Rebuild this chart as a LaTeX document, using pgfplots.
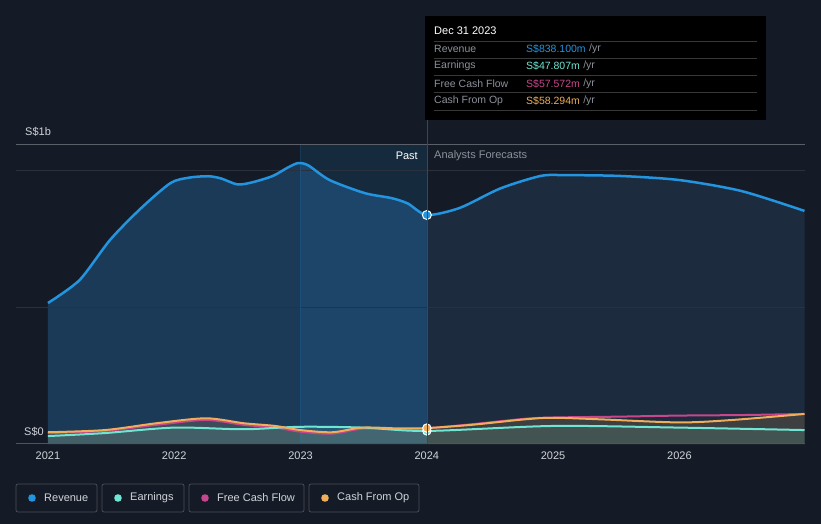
\documentclass[border=0pt]{standalone}
\usepackage{fontspec}
\setmainfont{Liberation Sans}
\usepackage{pgfplots}
\pgfplotsset{compat=1.18}

\definecolor{bg}{HTML}{151B26}
\definecolor{revc}{HTML}{2394DF}
\definecolor{earnc}{HTML}{6EE6D3}
\definecolor{fcfc}{HTML}{C8468C}
\definecolor{cfoc}{HTML}{F0AD5A}
\definecolor{pastfill}{HTML}{1B3A58}
\definecolor{forefill}{HTML}{1C2B3D}
\definecolor{gridc}{HTML}{2A313D}
\definecolor{txt}{HTML}{D0D4DA}
\definecolor{dim}{HTML}{8C929B}

\begin{document}
\begin{tikzpicture}[x=1pt,y=1pt]
\fill[bg] (-16,-80) rectangle (805,444);
\begin{axis}[
    at={(0,0)}, anchor=south west,
    scale only axis,
    width=789pt, height=300pt,
    xmin=2020.747, xmax=2026.994,
    ymin=0, ymax=1098,
    axis line style={draw=none},
    xtick={2021,2022,...,2026},
    ytick=\empty,
    major tick length=0pt,
    /pgf/number format/1000 sep={},
    /pgf/number format/assume math mode=true,
    xticklabel style={font=\fontsize{11}{13}\selectfont, color=txt, yshift=-4pt},
    clip=false,
]
% revenue area, past and forecast
\addplot[draw=none, fill=pastfill, smooth, tension=0.45] coordinates {
    (2021.00,516)(2021.25,600)(2021.49,746)(2021.73,860)(2021.97,955)
    (2022.12,975)(2022.27,980)(2022.37,972)(2022.50,950)(2022.62,958)
    (2022.78,981)(2022.90,1012)(2022.98,1028)(2023.06,1020)(2023.23,966)
    (2023.51,918)(2023.72,900)(2023.85,880)(2024.00,838.1)
} \closedcycle;
\addplot[draw=none, fill=forefill, smooth, tension=0.45] coordinates {
    (2024.00,838.1)(2024.26,864)(2024.58,935)(2024.90,981)(2025.10,984)
    (2025.53,981)(2026.00,966)(2026.49,926)(2026.99,853)
} \closedcycle;
% highlighted last year of the past
\fill[color=revc, opacity=0.13] (axis cs:2023,0) rectangle (axis cs:2024,1098);
% small series areas
\addplot[draw=none, fill=cfoc, fill opacity=0.16, smooth] coordinates {
    (2021,43)(2021.45,51)(2021.86,76)(2022.25,94)(2022.55,76)(2022.8,66)
    (2023.0,51)(2023.25,43)(2023.49,60)(2023.78,57)(2024,58.3)(2024.35,70)
    (2024.77,90)(2025,96)(2025.39,90)(2026,79)(2026.42,88)(2026.99,110)
} \closedcycle;
\addplot[draw=none, fill=earnc, fill opacity=0.12, smooth] coordinates {
    (2021,29)(2021.45,40)(2022.0,60)(2022.55,54)(2023.0,63)(2023.5,60)
    (2024,47.8)(2025,66)(2026,60)(2026.99,51)
} \closedcycle;
% grid lines
\draw[gridc, line width=0.8pt] (axis cs:2020.747,500) -- (axis cs:2026.994,500);
\draw[gridc, line width=0.8pt] (axis cs:2020.747,1000) -- (axis cs:2026.994,1000);
\draw[color=revc, opacity=0.25, line width=0.6pt] (axis cs:2023,0) -- (axis cs:2023,1098);
% lines
\addplot[fcfc, line width=2pt, smooth] coordinates {
    (2021,40)(2021.45,48)(2021.86,70)(2022.25,88)(2022.55,70)(2022.8,60)
    (2023.0,45)(2023.25,38)(2023.49,56)(2023.78,54)(2024,57.6)(2024.35,72)
    (2024.77,92)(2025,97)(2025.5,100)(2026,104)(2026.5,106)(2026.99,110)
};
\addplot[earnc, line width=2pt, smooth] coordinates {
    (2021,29)(2021.45,40)(2022.0,60)(2022.55,54)(2023.0,63)(2023.5,60)
    (2024,47.8)(2025,66)(2026,60)(2026.99,51)
};
\addplot[cfoc, line width=2pt, smooth] coordinates {
    (2021,43)(2021.45,51)(2021.86,76)(2022.25,94)(2022.55,76)(2022.8,66)
    (2023.0,51)(2023.25,43)(2023.49,60)(2023.78,57)(2024,58.3)(2024.35,70)
    (2024.77,90)(2025,96)(2025.39,90)(2026,79)(2026.42,88)(2026.99,110)
};
\addplot[revc, line width=2.5pt, smooth, tension=0.45] coordinates {
    (2021.00,516)(2021.25,600)(2021.49,746)(2021.73,860)(2021.97,955)
    (2022.12,975)(2022.27,980)(2022.37,972)(2022.50,950)(2022.62,958)
    (2022.78,981)(2022.90,1012)(2022.98,1028)(2023.06,1020)(2023.23,966)
    (2023.51,918)(2023.72,900)(2023.85,880)(2024.00,838.1)
    (2024.26,864)(2024.58,935)(2024.90,981)(2025.10,984)
    (2025.53,981)(2026.00,966)(2026.49,926)(2026.99,853)
};
% markers at Dec 31 2023
\addplot[only marks, mark=*, mark size=4.2pt, mark options={fill=earnc, draw=white, line width=1pt}] coordinates {(2024,47.8)};
\addplot[only marks, mark=*, mark size=4.2pt, mark options={fill=cfoc, draw=white, line width=1pt}] coordinates {(2024,58.3)};
\addplot[only marks, mark=*, mark size=4.5pt, mark options={fill=revc, draw=white, line width=1pt}] coordinates {(2024,838.1)};
\end{axis}

% frame lines
\draw[color=white!30!bg, line width=0.8pt] (0,300) -- (789,300);
\draw[color=white!25!bg, line width=1pt] (0,0) -- (789,0);
\draw[color=revc!45!bg, line width=0.8pt] (411,0) -- (411,324);

% axis value labels
\node[anchor=west, text=txt, font=\fontsize{11}{13}\selectfont, inner sep=0pt] at (9,312) {S\$1b};
\node[anchor=west, text=txt, font=\fontsize{11}{13}\selectfont, inner sep=0pt] at (8,12) {S\$0};
\node[anchor=east, text=white, font=\fontsize{11}{13}\selectfont, inner sep=0pt] at (402,288) {Past};
\node[anchor=west, text=dim, font=\fontsize{11}{13}\selectfont, inner sep=0pt] at (418,288) {Analysts Forecasts};

% tooltip
\fill[black] (409,324) rectangle (750,428);
\node[anchor=west, text=white, font=\fontsize{11}{13}\selectfont, inner sep=0pt] at (418,413) {Dec 31 2023};
\foreach \yy in {403,386,369,352,334} {\draw[color=white!22!black, line width=0.6pt] (418,\yy) -- (741,\yy);}
\foreach \yy/\lab/\val/\col in {395/Revenue/S\$838.100m/revc, 378/Earnings/S\$47.807m/earnc, 360/Free Cash Flow/S\$57.572m/fcfc, 343/Cash From Op/S\$58.294m/cfoc} {
  \node[anchor=west, text=dim, font=\fontsize{10.5}{12}\selectfont, inner sep=0pt] at (418,\yy) {\lab};
  \node[anchor=west, text=\col, font=\fontsize{10.5}{12}\selectfont, inner sep=0pt] (v) at (510,\yy) {\val};
  \node[anchor=west, text=dim, font=\fontsize{10.5}{12}\selectfont, inner sep=0pt] at ([xshift=3pt]v.east) {/yr};
}

% legend
\foreach \xa/\xb/\lab/\col in {0/81/Revenue/revc, 86/168/Earnings/earnc, 173/288/Free Cash Flow/fcfc, 293/403/Cash From Op/cfoc} {
  \draw[color=white!22!bg, line width=0.8pt, rounded corners=2pt] (\xa,-40) rectangle (\xb,-68);
  \fill[\col] (\xa+16,-54) circle (3.8);
  \node[anchor=west, text=txt, font=\fontsize{11}{13}\selectfont, inner sep=0pt] at (\xa+28,-54) {\lab};
}

\pgfresetboundingbox
\useasboundingbox (-16,-80) rectangle (805,444);
\end{tikzpicture}
\end{document}
